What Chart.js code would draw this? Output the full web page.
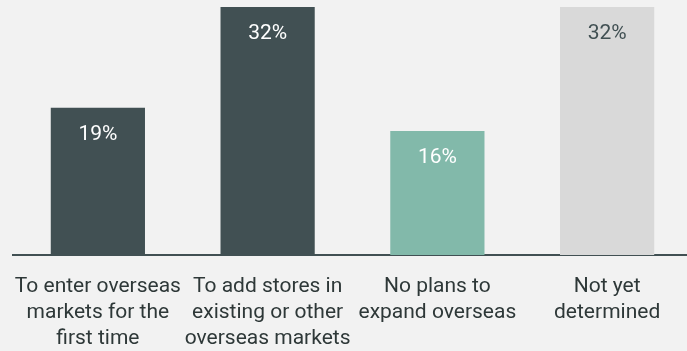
<!DOCTYPE html>
<html>
<head>
<meta charset="utf-8">
<script src="https://cdn.jsdelivr.net/npm/chart.js@4/dist/chart.umd.min.js"></script>
<style>
  html, body { margin: 0; padding: 0; background: #f2f2f2; overflow: hidden; }
  #wrap { width: 692px; height: 351px; }
</style>
</head>
<body>
<div id="wrap"><canvas id="plany"></canvas></div>
<script>
const kategorie = [
  ["To enter overseas", "markets for the", "first time"],
  ["To add stores in", "existing or other", "overseas markets"],
  ["No plans to", "expand overseas"],
  ["Not yet", "determined"]
];
const procenty = [19, 32, 16, 32];
const koloryBarow = ["#415053", "#415053", "#82b9aa", "#d9d9d9"];
const koloryEtykiet = ["#ffffff", "#ffffff", "#ffffff", "#415053"];

// etykiety z wartoscia w gornej czesci slupka
const etykietyWartosci = {
  id: 'etykietyWartosci',
  afterDatasetsDraw(chart) {
    const ctx = chart.ctx;
    const meta = chart.getDatasetMeta(0);
    ctx.save();
    ctx.font = '21px Roboto';
    ctx.textAlign = 'center';
    ctx.textBaseline = 'middle';
    meta.data.forEach((bar, i) => {
      ctx.fillStyle = koloryEtykiet[i];
      ctx.fillText(procenty[i] + '%', bar.x, bar.y + 27);
    });
    ctx.restore();
  }
};

Chart.defaults.font.family = 'Roboto';
new Chart(document.getElementById("plany").getContext("2d"), {
  type: 'bar',
  data: {
    labels: kategorie,
    datasets: [{
      data: procenty,
      backgroundColor: koloryBarow,
      categoryPercentage: 1,
      barPercentage: 0.555
    }]
  },
  options: {
    responsive: true,
    maintainAspectRatio: false,
    animation: false,
    layout: { padding: { left: 13, top: 7, right: 0, bottom: 0 } },
    scales: {
      x: {
        afterFit(scale) {
          scale.height = 96;
          scale.paddingLeft = 0;
          scale.paddingRight = 0;
        },
        grid: { display: false, drawTicks: false },
        border: { display: true, color: '#415053', width: 2 },
        ticks: {
          color: '#2e3838',
          font: { size: 21, lineHeight: 1.24 },
          padding: 19,
          maxRotation: 0,
          autoSkip: false
        }
      },
      y: {
        display: false,
        min: 0,
        max: 32
      }
    },
    plugins: {
      legend: { display: false },
      tooltip: { enabled: false }
    }
  },
  plugins: [etykietyWartosci]
});
</script>
</body>
</html>
